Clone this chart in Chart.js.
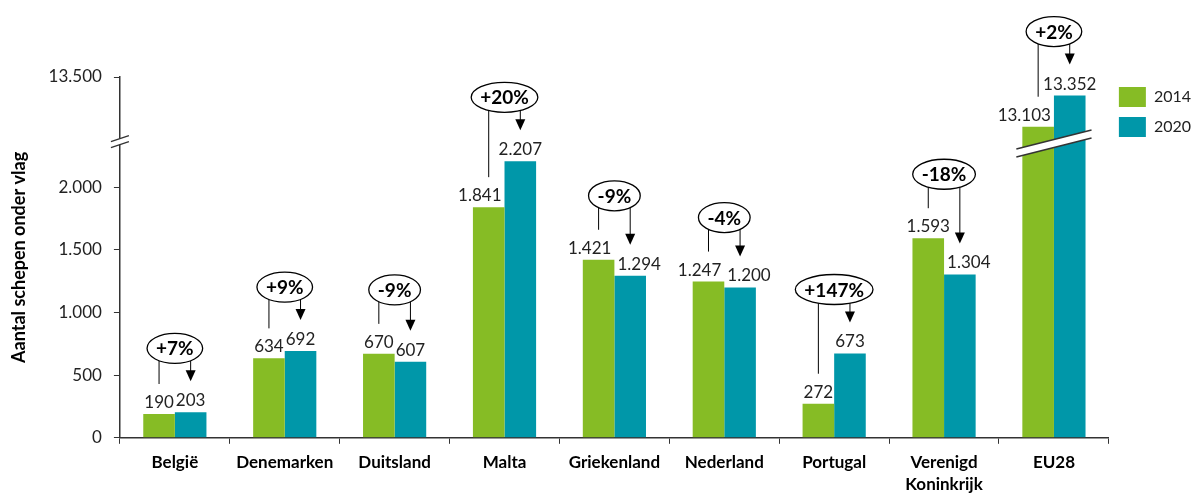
<!DOCTYPE html>
<html>
<head>
<meta charset="utf-8">
<script src="https://cdn.jsdelivr.net/npm/chart.js@4/dist/chart.umd.min.js"></script>
<style>
body { margin: 0; background: #fff; }
#wrap { width: 1192px; height: 493px; }
</style>
</head>
<body>
<div id="wrap"><canvas id="shipsPlot"></canvas></div>
<script>
// Data
var countries = ['België', 'Denemarken', 'Duitsland', 'Malta', 'Griekenland', 'Nederland', 'Portugal', ['Verenigd', 'Koninkrijk'], 'EU28'];
var ships2014 = [190, 634, 670, 1841, 1421, 1247, 272, 1593, 13103];
var ships2020 = [203, 692, 607, 2207, 1294, 1200, 673, 1304, 13352];
var changes = ['+7%', '+9%', '-9%', '+20%', '-9%', '-4%', '+147%', '-18%', '+2%'];
var yTicks = [0, 500, 1000, 1500, 2000, 13500];

var green = '#86BC25';
var teal = '#0097A9';
var FONT = 'Lato, "Open Sans", sans-serif';

// Broken axis: everything above breakFrom is shifted down by breakShift
var breakFrom = 10000;
var breakShift = 10620;
var breakAt = 2365;

function toAxis(v)
{
    return v > breakFrom ? v - breakShift : v;
}

function fromAxis(v)
{
    return v > breakAt ? v + breakShift : v;
}

function formatNL(n)
{
    return String(Math.round(n)).replace(/\B(?=(\d{3})+(?!\d))/g, '.');
}

var annotations = {
    id: 'annotations',
    afterDatasetsDraw: function(chart) {
        var ctx = chart.ctx;
        var yScale = chart.scales.y;
        var m0 = chart.getDatasetMeta(0);
        var m1 = chart.getDatasetMeta(1);
        var breakY = yScale.getPixelForValue(breakAt);

        ctx.save();

        // break band on the EU28 bars
        var last = countries.length - 1;
        var g = m0.data[last], t = m1.data[last];
        var x1 = g.x - g.width / 2 - 6;
        var x2 = t.x + t.width / 2 + 6;
        var cy = breakY + 2;
        var dy = 9.5, half = 4;
        ctx.beginPath();
        ctx.moveTo(x1, cy + dy - half);
        ctx.lineTo(x2, cy - dy - half);
        ctx.lineTo(x2, cy - dy + half);
        ctx.lineTo(x1, cy + dy + half);
        ctx.closePath();
        ctx.fillStyle = '#fff';
        ctx.fill();
        ctx.strokeStyle = '#333';
        ctx.lineWidth = 1.5;
        ctx.beginPath();
        ctx.moveTo(x1, cy + dy - half);
        ctx.lineTo(x2, cy - dy - half);
        ctx.moveTo(x1, cy + dy + half);
        ctx.lineTo(x2, cy - dy + half);
        ctx.stroke();

        // value labels, pushed outwards when wider than the bar
        ctx.font = '17px ' + FONT;
        ctx.fillStyle = '#222';
        ctx.textAlign = 'center';
        ctx.textBaseline = 'bottom';
        for (var i = 0; i < countries.length; i++) {
            var a = m0.data[i], b = m1.data[i];
            var ta = formatNL(ships2014[i]), tb = formatNL(ships2020[i]);
            var wa = ctx.measureText(ta).width, wb = ctx.measureText(tb).width;
            var close = Math.abs(a.y - b.y) < 20;
            var sa = 0, sb = 0;
            if (wa > a.width - 2 && (a.y >= b.y || close))
                sa = -((wa - a.width) / 2 + 3);
            if (wb > b.width - 2 && (b.y >= a.y || close))
                sb = (wb - b.width) / 2 + 3;
            ctx.fillText(ta, a.x + sa, a.y - 3);
            ctx.fillText(tb, b.x + sb, b.y - 3);
        }

        // change bubbles with lines and arrows
        ctx.font = 'bold 19px ' + FONT;
        ctx.textBaseline = 'middle';
        for (var i = 0; i < countries.length; i++) {
            var a = m0.data[i], b = m1.data[i];
            var top = Math.min(a.y, b.y);
            var ex = (a.x + b.x) / 2;
            var ey = top - 64;
            var rx = (ctx.measureText(changes[i]).width + 18) / 2;
            var ry = 15;

            var edge = function(x) {
                var k = (x - ex) / rx;
                if (Math.abs(k) >= 1)
                    return ey;
                return ey + ry * Math.sqrt(1 - k * k);
            };

            ctx.strokeStyle = '#000';
            ctx.lineWidth = 1;
            ctx.beginPath();
            ctx.moveTo(a.x, edge(a.x));
            ctx.lineTo(a.x, a.y - 30);
            ctx.moveTo(b.x, edge(b.x));
            ctx.lineTo(b.x, b.y - 40);
            ctx.stroke();

            ctx.fillStyle = '#000';
            ctx.beginPath();
            ctx.moveTo(b.x - 5, b.y - 42);
            ctx.lineTo(b.x + 5, b.y - 42);
            ctx.lineTo(b.x, b.y - 31);
            ctx.closePath();
            ctx.fill();

            ctx.beginPath();
            ctx.ellipse(ex, ey, rx, ry, 0, 0, 2 * Math.PI);
            ctx.fillStyle = '#fff';
            ctx.fill();
            ctx.lineWidth = 1.3;
            ctx.stroke();

            ctx.fillStyle = '#000';
            ctx.fillText(changes[i], ex, ey + 1);
        }
        ctx.restore();
    },
    afterDraw: function(chart) {
        // break marks on the y axis
        var ctx = chart.ctx;
        var yScale = chart.scales.y;
        var x = chart.chartArea.left;
        var y = yScale.getPixelForValue(breakAt);
        ctx.save();
        ctx.fillStyle = '#fff';
        ctx.fillRect(x - 3, y - 3, 6, 6);
        ctx.strokeStyle = '#333';
        ctx.lineWidth = 1.3;
        ctx.beginPath();
        ctx.moveTo(x - 9, y + 0);
        ctx.lineTo(x + 9, y - 6);
        ctx.moveTo(x - 9, y + 6);
        ctx.lineTo(x + 9, y + 0);
        ctx.stroke();
        ctx.restore();
    }
};

new Chart(document.getElementById('shipsPlot'), {
    type: 'bar',
    data: {
        labels: countries,
        datasets: [{
            label: '2014',
            data: ships2014.map(toAxis),
            backgroundColor: green
        }, {
            label: '2020',
            data: ships2020.map(toAxis),
            backgroundColor: teal
        }]
    },
    options: {
        responsive: true,
        maintainAspectRatio: false,
        animation: false,
        categoryPercentage: 0.575,
        barPercentage: 1,
        layout: {
            padding: {top: 77, left: 8, right: -9, bottom: -11}
        },
        plugins: {
            legend: {
                position: 'right',
                align: 'start',
                labels: {
                    boxWidth: 27,
                    boxHeight: 20,
                    padding: 10,
                    color: '#222',
                    font: {family: FONT, size: 16}
                }
            },
            tooltip: {enabled: false}
        },
        scales: {
            x: {
                grid: {
                    drawOnChartArea: false,
                    tickLength: 6,
                    color: '#333'
                },
                border: {color: '#333', width: 1.5},
                ticks: {
                    color: '#000',
                    padding: 8,
                    font: {family: FONT, size: 17, weight: 'bold', lineHeight: 1.3}
                }
            },
            y: {
                min: 0,
                max: toAxis(13500),
                afterBuildTicks: function(scale) {
                    scale.ticks = yTicks.map(function(v) { return {value: toAxis(v)}; });
                },
                grid: {
                    drawOnChartArea: false,
                    tickLength: 6,
                    color: '#333'
                },
                border: {color: '#333', width: 1.5},
                ticks: {
                    color: '#222',
                    padding: 12,
                    font: {family: FONT, size: 17},
                    callback: function(value) {
                        return formatNL(fromAxis(value));
                    }
                },
                title: {
                    display: true,
                    text: 'Aantal schepen onder vlag',
                    color: '#000',
                    padding: {top: 0, bottom: 7},
                    font: {family: FONT, size: 18, weight: 'bold'}
                }
            }
        }
    },
    plugins: [annotations]
});
</script>
</body>
</html>
